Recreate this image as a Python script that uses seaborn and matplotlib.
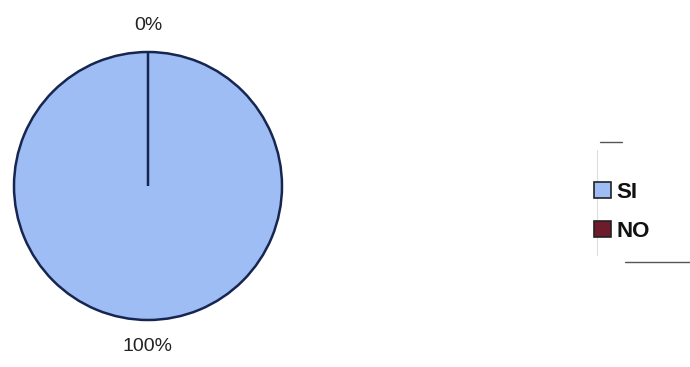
import matplotlib
matplotlib.use("Agg")
import matplotlib.pyplot as plt
import seaborn as sns
from matplotlib.patches import Patch
from matplotlib.lines import Line2D

categories = ["SI", "NO"]
values = [100, 0]

sns.set_theme(style="white")
plt.rcParams['font.family'] = ['Liberation Sans', 'DejaVu Sans']
colors = sns.color_palette(["#9dbdf4", "#6e1b2c"])

fig = plt.figure(figsize=(6.9, 3.67), dpi=100)
ax = fig.add_axes([(148 - 134) / 690, (367 - 186 - 134) / 367, 268 / 690, 268 / 367])

total = sum(values)
labels = [f"{v / total * 100:.0f}%" for v in values]
wedges, texts = ax.pie(values, colors=colors, startangle=90, counterclock=False,
                       labels=labels, labeldistance=1.2,
                       wedgeprops=dict(edgecolor="#172650", linewidth=1.8),
                       textprops=dict(fontsize=14, color="#222222"))
for t in texts:
    t.set_ha("center")
    t.set_va("center")
ax.set_aspect("auto")
ax.set_xlim(-1.0, 1.0)
ax.set_ylim(-1.0, 1.0)
ax.axis("off")

handles = [Patch(facecolor=c, edgecolor="#222222", linewidth=1.2) for c in colors]
leg = fig.legend(handles, categories, loc="upper left", bbox_to_anchor=(585 / 690, 1 - 173 / 367),
                 frameon=False, prop=dict(size=16, weight="bold"), handlelength=0.75,
                 handleheight=0.75, handletextpad=0.25, labelspacing=0.8, borderaxespad=0)
for t in leg.get_texts():
    t.set_color("#111111")

fig.add_artist(Line2D([600 / 690, 622 / 690], [1 - 142 / 367] * 2, color="#555555", lw=1.0))
fig.add_artist(Line2D([625 / 690, 690 / 690], [1 - 262 / 367] * 2, color="#555555", lw=1.0))
fig.add_artist(Line2D([597 / 690, 597 / 690], [1 - 150 / 367, 1 - 255 / 367], color="#dddddd", lw=0.8))

fig.savefig("out.png", dpi=100, facecolor="white")
